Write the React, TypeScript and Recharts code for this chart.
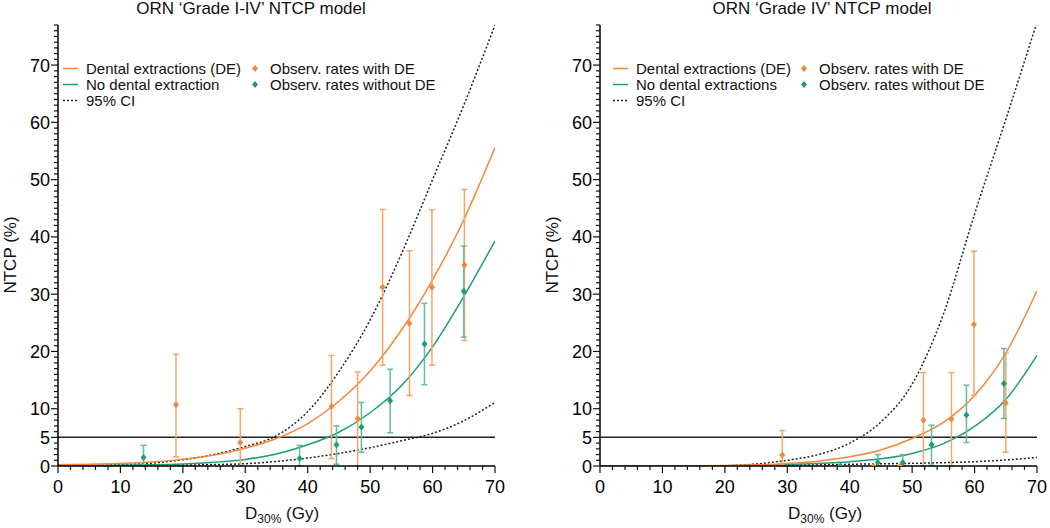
import React from "react";
import { ComposedChart, Line, Scatter, ErrorBar, XAxis, YAxis, ReferenceLine } from "recharts";

const FONT = "'Liberation Sans', Arial, Helvetica, sans-serif";
const ORANGE = "#f5873a";
const GREEN = "#1d9e74";
const ORANGE_BAR = "#f7a565";
const GREEN_BAR = "#5fbf9b";

// dose grid for the model curves (Gy)
const doses = [0, 5, 10, 15, 20, 25, 30, 35, 40, 45, 50, 55, 60, 65, 70];

// Grade I-IV model (NTCP %)
const leftDE = [0.2, 0.3, 0.45, 0.7, 1.2, 1.9, 3.1, 4.8, 7.4, 11.3, 16.6, 23.7, 32.5, 43, 55.6];
const leftNoDE = [0.05, 0.08, 0.12, 0.2, 0.35, 0.65, 1.15, 2.1, 3.7, 5.9, 9.3, 14, 20.8, 29.6, 39.3];
const leftUpper = [0.05, 0.1, 0.25, 0.5, 1.1, 2.0, 3.4, 5.3, 9.5, 16.5, 25.5, 37, 50, 63, 77];
const leftLower = [0, 0.02, 0.05, 0.08, 0.15, 0.25, 0.4, 0.8, 1.4, 2.2, 3.2, 4.4, 5.7, 7.9, 11.1];

// Grade IV model (NTCP %)
const rightDE = [0, 0, 0, 0.02, 0.08, 0.2, 0.45, 0.85, 1.6, 2.8, 4.8, 7.6, 12.3, 19.7, 30.6];
const rightNoDE = [0, 0, 0, 0.01, 0.05, 0.12, 0.25, 0.45, 0.75, 1.25, 2.2, 3.9, 6.9, 11.6, 19.3];
const rightUpper = [0, 0, 0, 0, 0.05, 0.35, 1.0, 2.0, 4.0, 7.7, 14.3, 26.5, 44, 60.5, 77.5];
const rightLower = [0, 0, 0, 0, 0, 0.05, 0.12, 0.2, 0.3, 0.38, 0.47, 0.58, 0.75, 1.05, 1.5];

// observed rates, grade I-IV
const obsLeftDEDose = [18.9, 29.2, 43.8, 48.0, 52.0, 56.3, 59.9, 65.1];
const obsLeftDE = [10.7, 4.1, 10.4, 8.3, 31.2, 24.9, 31.2, 35.1];
const obsLeftDELow = [1.6, 0, 1.3, 0, 17.6, 12.3, 17.6, 21.9];
const obsLeftDEHigh = [19.5, 10, 19.3, 16.4, 44.8, 37.6, 44.7, 48.3];

const obsLeftNoDEDose = [13.7, 38.7, 44.6, 48.6, 53.2, 58.7, 65.0];
const obsLeftNoDE = [1.5, 1.3, 3.7, 6.8, 11.4, 21.3, 30.5];
const obsLeftNoDELow = [0, 0, 0.3, 2.4, 5.8, 14.2, 22.5];
const obsLeftNoDEHigh = [3.6, 3.6, 7.0, 11.1, 16.9, 28.4, 38.4];

// observed rates, grade IV
const obsRightDEDose = [29.2, 43.8, 48.1, 51.8, 56.3, 59.9, 65.0];
const obsRightDE = [1.9, 0, 0, 8.0, 8.2, 24.7, 11.0];
const obsRightDELow = [0, 0, 0, 0, 0, 12.3, 2.4];
const obsRightDEHigh = [6.2, 0, 0, 16.3, 16.3, 37.5, 19.7];

const obsRightNoDEDose = [38.5, 44.5, 48.5, 53.1, 58.7, 64.7];
const obsRightNoDE = [0, 0.6, 0.6, 3.7, 8.9, 14.4];
const obsRightNoDELow = [0, 0, 0, 0.1, 4.1, 8.3];
const obsRightNoDEHigh = [0, 2.0, 2.0, 7.1, 14.1, 20.5];

const xLabels = [0, 10, 20, 30, 40, 50, 60, 70];
const yLabels = [0, 5, 10, 20, 30, 40, 50, 60, 70];
const xTicks = Array.from({ length: 36 }, (_, i) => i * 2);
const yTicks = Array.from({ length: 78 }, (_, i) => i);

const curve = (vals: number[]) => doses.map((d, i) => ({ d, v: vals[i] }));
const points = (dx: number[], y: number[], lo: number[], hi: number[]) =>
  dx.map((d, i) => ({ d, y: y[i], err: [y[i] - lo[i], hi[i] - y[i]] }));

const diamondPath = (cx: number, cy: number) =>
  `M${cx},${cy - 3.5}L${cx + 3},${cy}L${cx},${cy + 3.5}L${cx - 3},${cy}Z`;

const Diamond = (p: any) => <path d={diamondPath(p.cx, p.cy)} fill={p.fill} />;

function YTick({ x, y, payload }: any) {
  const major = yLabels.includes(payload.value);
  return (
    <g>
      <line x1={x - (major ? 7 : 4)} x2={x} y1={y} y2={y} stroke="#111" strokeWidth={1.2} />
      {major && (
        <text x={x - 8} y={y + 6.5} textAnchor="end" fontSize={18} fontFamily={FONT} fill="#000">
          {payload.value}
        </text>
      )}
    </g>
  );
}

function XTick({ x, y, payload }: any) {
  const major = xLabels.includes(payload.value);
  return (
    <g>
      <line x1={x} x2={x} y1={y} y2={y + (major ? 7 : 4)} stroke="#111" strokeWidth={1.2} />
      {major && (
        <text x={x} y={y + 27} textAnchor="middle" fontSize={18} fontFamily={FONT} fill="#000">
          {payload.value}
        </text>
      )}
    </g>
  );
}

interface PanelProps {
  title: string;
  titleX: number;
  axisW: number;
  rightM: number;
  noDELabel: string;
  legX: number;
  mkX: number;
  ylabX: number;
  xlabX: number;
  de: number[];
  noDE: number[];
  upper: number[];
  lower: number[];
  obsDE: any[];
  obsNoDE: any[];
}

function Panel(p: PanelProps) {
  return (
    <div style={{ position: "relative", width: 525, height: 528 }}>
      <ComposedChart width={525} height={528} margin={{ top: 25, right: p.rightM, bottom: 22, left: 0 }}>
        <XAxis
          dataKey="d"
          type="number"
          domain={[0, 70]}
          ticks={xTicks}
          interval={0}
          minTickGap={0}
          tickSize={0}
          tickMargin={0}
          tick={<XTick />}
          height={40}
          allowDataOverflow
          stroke="#000"
          strokeWidth={1.5}
        />
        <YAxis
          type="number"
          domain={[0, 77]}
          ticks={yTicks}
          interval={0}
          minTickGap={0}
          tickSize={0}
          tickMargin={0}
          tick={<YTick />}
          width={p.axisW}
          allowDataOverflow
          stroke="#000"
          strokeWidth={1.5}
        />
        <ReferenceLine y={5} stroke="#222" strokeWidth={1.5} />
        <Line data={curve(p.upper)} dataKey="v" type="monotone" stroke="#222" strokeWidth={1.5} strokeDasharray="2 2" dot={false} isAnimationActive={false} />
        <Line data={curve(p.lower)} dataKey="v" type="monotone" stroke="#222" strokeWidth={1.5} strokeDasharray="2 2" dot={false} isAnimationActive={false} />
        <Line data={curve(p.noDE)} dataKey="v" type="monotone" stroke={GREEN} strokeWidth={1.5} dot={false} isAnimationActive={false} />
        <Line data={curve(p.de)} dataKey="v" type="monotone" stroke={ORANGE} strokeWidth={1.5} dot={false} isAnimationActive={false} />
        <Scatter data={p.obsDE} dataKey="y" fill={ORANGE} shape={Diamond} isAnimationActive={false}>
          <ErrorBar dataKey="err" direction="y" width={3} stroke={ORANGE_BAR} strokeWidth={1.5} />
        </Scatter>
        <Scatter data={p.obsNoDE} dataKey="y" fill={GREEN} shape={Diamond} isAnimationActive={false}>
          <ErrorBar dataKey="err" direction="y" width={3} stroke={GREEN_BAR} strokeWidth={1.5} />
        </Scatter>
      </ComposedChart>
      <svg width={525} height={528} style={{ position: "absolute", left: 0, top: 0, pointerEvents: "none" }} fontFamily={FONT} fill="#111">
        <text x={p.titleX} y={14} textAnchor="middle" fontSize={17}>{p.title}</text>
        <text transform={`translate(${p.ylabX},255) rotate(-90)`} textAnchor="middle" fontSize={17}>NTCP (%)</text>
        <text x={p.xlabX} y={519} fontSize={17}>
          D<tspan fontSize={12} dy={4}>30%</tspan>
          <tspan dy={-4}> (Gy)</tspan>
        </text>
        <g fontSize={15}>
          <line x1={p.legX} x2={p.legX + 15} y1={68.5} y2={68.5} stroke={ORANGE} strokeWidth={1.5} />
          <text x={p.legX + 23} y={74}>Dental extractions (DE)</text>
          <line x1={p.legX} x2={p.legX + 15} y1={84.5} y2={84.5} stroke={GREEN} strokeWidth={1.5} />
          <text x={p.legX + 23} y={90}>{p.noDELabel}</text>
          <line x1={p.legX} x2={p.legX + 15} y1={100.5} y2={100.5} stroke="#222" strokeWidth={1.5} strokeDasharray="2 2" />
          <text x={p.legX + 23} y={106}>95% CI</text>
          <path d={diamondPath(p.mkX, 68.5)} fill={ORANGE} />
          <text x={p.mkX + 15} y={74}>Observ. rates with DE</text>
          <path d={diamondPath(p.mkX, 84.5)} fill={GREEN} />
          <text x={p.mkX + 15} y={90}>Observ. rates without DE</text>
        </g>
      </svg>
    </div>
  );
}

export default function App() {
  return (
    <div style={{ position: "absolute", left: 0, top: 0, width: 1050, height: 528, background: "#fff", display: "flex" }}>
      <Panel
        title="ORN ‘Grade I-IV’ NTCP model"
        titleX={251}
        axisW={58}
        rightM={30}
        noDELabel="No dental extraction"
        legX={63}
        mkX={255}
        ylabX={16}
        xlabX={245}
        de={leftDE}
        noDE={leftNoDE}
        upper={leftUpper}
        lower={leftLower}
        obsDE={points(obsLeftDEDose, obsLeftDE, obsLeftDELow, obsLeftDEHigh)}
        obsNoDE={points(obsLeftNoDEDose, obsLeftNoDE, obsLeftNoDELow, obsLeftNoDEHigh)}
      />
      <Panel
        title="ORN ‘Grade IV’ NTCP model"
        titleX={297}
        axisW={75}
        rightM={13}
        noDELabel="No dental extractions"
        legX={88}
        mkX={279}
        ylabX={33}
        xlabX={263}
        de={rightDE}
        noDE={rightNoDE}
        upper={rightUpper}
        lower={rightLower}
        obsDE={points(obsRightDEDose, obsRightDE, obsRightDELow, obsRightDEHigh)}
        obsNoDE={points(obsRightNoDEDose, obsRightNoDE, obsRightNoDELow, obsRightNoDEHigh)}
      />
    </div>
  );
}
